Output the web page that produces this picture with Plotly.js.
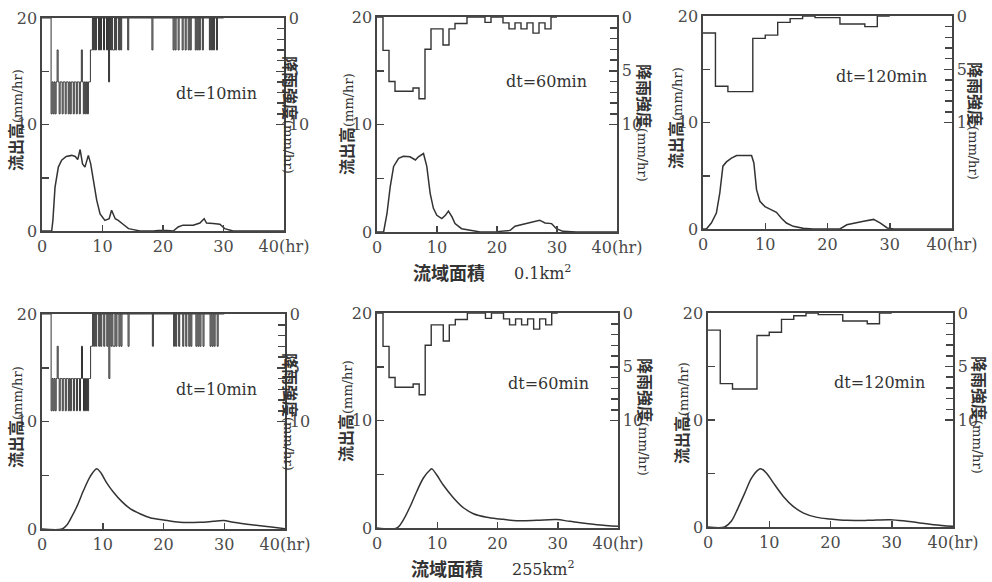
<!DOCTYPE html>
<html><head><meta charset="utf-8">
<script src="https://cdn.plot.ly/plotly-3.0.1.min.js"></script>
<style>html,body{margin:0;padding:0;background:#fff}#chart{width:992px;height:582px}</style>
</head><body><div id="chart"></div>
<script>
// ---------- data ----------
// 10-minute rainfall (mm/hr), hours 0..29, six values per hour
const rain10 = [
 0,0,0,0,0,0,  0,0,0,9,6,9,  6,9,6,3,6,9,  6,6,9,6,6,9,  6,6,9,6,9,6,
 6,9,6,6,9,6,  6,9,6,3,6,9,  6,9,6,9,6,6,  3,3,0,3,0,3,  0,0,3,0,3,0,
 0,3,0,0,3,0,  6,0,3,0,3,3,  0,3,0,0,3,0,  3,0,0,0,0,0,  0,3,0,0,0,0,
 0,0,0,0,0,0,  0,0,0,0,0,0,  0,0,0,0,0,0,  0,3,0,0,0,0,  0,0,0,0,0,0,
 0,0,0,0,0,0,  0,0,0,0,3,0,  3,0,0,3,0,0,  0,3,0,0,3,0,  0,3,0,3,0,0,
 0,0,3,0,3,0,  3,0,0,3,0,0,  0,0,0,0,3,0,  3,0,3,0,0,3,  0,0,0,0,0,0
];
// hourly rainfall (mm/hr), hours 0..29
const rain60 = [0,3.1,6.0,6.9,6.9,6.9,6.6,7.6,3.0,1.1,1.1,2.6,1.1,0.6,0.6,0,0,0,0.5,0,0,0.55,1.1,0.55,1.1,0.55,1.5,0.55,1.1,0];
// 2-hourly rainfall (mm/hr), periods starting 0,2,...,28
const rain120 = [1.6,6.6,7.1,7.1,2.1,1.8,0.6,0.25,0,0.15,0.15,0.75,0.75,1.0,0];

// runoff, basin 0.1 km2
const qA10_t = [0,1.6,1.8,2.15,2.7,3.25,4.0,4.9,5.5,5.9,6.3,6.7,7.1,7.66,8.05,8.5,9.04,9.6,10.4,11.1,11.5,12.1,12.6,13.4,14.3,15.1,16.2,18.4,19.2,20.6,21.7,22.5,23.3,25.0,26.1,26.8,27.2,28.3,29.4,30.2,31.6,40];
const qA10_v = [0,0,1.0,4.1,6.0,6.65,7.0,7.1,7.0,6.7,7.65,6.3,6.0,7.1,6.3,4.8,2.9,1.6,1.0,1.15,1.95,1.15,1.0,0.63,0.22,0.13,0,0,0.05,0.05,0,0.38,0.55,0.55,0.75,1.15,0.75,0.7,0.63,0.22,0,0];
const qA60_t = [0,1.1,1.66,2.2,2.77,3.6,4.4,5.5,6.4,6.9,7.75,8.3,8.86,9.4,9.97,10.8,11.4,11.9,12.5,13.0,14.1,15.5,17.2,19.9,22.2,23.0,24.4,25.5,26.3,27.1,28.0,29.1,29.9,31.0,33.2,40];
const qA60_v = [0,0,1.7,4.2,6.1,6.85,7.05,7.0,6.7,7.0,7.3,6.1,3.6,2.2,1.55,1.25,1.55,1.95,1.4,0.78,0.31,0.15,0,0.03,0.15,0.53,0.72,0.84,0.93,1.1,0.84,0.78,0.31,0.06,0,0];
const qA120_t = [0,0.54,1.34,2.15,2.7,3.2,3.76,4.57,5.4,6.45,7.8,8.17,8.6,9.14,9.95,11.0,11.8,12.6,13.4,14.5,16.1,17.7,22.0,23.1,24.2,25.8,27.4,28.5,29.6,30.6,40];
const qA120_v = [0,0,0.56,1.5,3.4,5.9,6.3,6.65,6.9,6.9,6.9,6.2,3.7,2.6,2.1,1.8,1.56,1.0,0.56,0.25,0.06,0,0,0.4,0.56,0.72,0.9,0.56,0.1,0,0];

// runoff, basin 255 km2
const qB10_t = [0,3.3,4.1,4.9,5.75,6.85,7.95,9.0,9.6,10.7,11.8,13.15,14.5,16.2,17.8,20.0,22.7,26.0,28.2,29.9,31.5,34.8,38.1,40];
const qB10_v = [0,0,0.37,1.15,2.1,3.6,4.9,5.6,5.3,4.25,3.4,2.55,1.9,1.4,1.05,0.84,0.62,0.62,0.71,0.78,0.62,0.37,0.16,0.03];
const qB60_t = [0,3.3,4.4,5.5,6.6,7.7,8.8,9.1,9.9,11.0,12.7,14.4,16.0,18.2,20.4,23.2,26.5,29.8,32.0,36.5,40];
const qB60_v = [0,0,0.78,2.0,3.4,4.65,5.4,5.5,4.95,4.0,2.8,1.86,1.33,1.0,0.84,0.68,0.71,0.78,0.62,0.31,0.16];
const qB120_t = [0,2.7,3.8,4.9,6.0,7.1,8.2,8.7,9.6,10.7,12.3,13.9,15.6,17.8,19.9,22.7,26.0,29.8,32.5,36.9,40];
const qB120_v = [0,0,0.53,1.77,3.17,4.56,5.34,5.43,5.0,4.1,2.86,1.93,1.3,0.9,0.75,0.62,0.62,0.68,0.53,0.22,0.06];

const xTickVals = [0,10,20,30,40];
const xTickText = ['0','10','20','30','40(hr)'];
const leftTickVals = [0,10,20];
const rightTickVals = [0,5,10];
const dtLabels = ['dt=10min','dt=60min','dt=120min'];
const areaLabels = ['0.1km<sup>2</sup>','255km<sup>2</sup>'];

// ---------- rainfall step series ----------
function stepSeries(vals, dt){
  const x=[], y=[];
  vals.forEach((v,i)=>{x.push(i*dt); y.push(v);});
  x.push(vals.length*dt); y.push(0);
  return {x,y};
}
const rainSets = [stepSeries(rain10,1/6), stepSeries(rain60,1), stepSeries(rain120,2)];
const runoff = [
  [qA10_t,qA10_v],[qA60_t,qA60_v],[qA120_t,qA120_v],
  [qB10_t,qB10_v],[qB60_t,qB60_v],[qB120_t,qB120_v]
];

// ---------- layout geometry (pixels) ----------
const W=992, H=582;
const geo = [
  {x:[42,284], y:[18,231], dt:[216,94],  lt:[15,120],  rt:[291,115]},
  {x:[377,617],y:[17,232], dt:[546,82],  lt:[346,124], rt:[645,123]},
  {x:[703,952],y:[16,229], dt:[881,77],  lt:[675,118], rt:[976,121]},
  {x:[42,285], y:[314,529],dt:[216,390], lt:[15,417],  rt:[291,412]},
  {x:[377,618],y:[313,528],dt:[548,383], lt:[345,411], rt:[646,417]},
  {x:[708,953],y:[313,527],dt:[879,382], lt:[681,413], rt:[980,415]}
];
const px = v=>v/W, py = v=>1-v/H;
const ink='#333', axc='#444';
const tickFont={family:'DejaVu Serif', size:16, color:'#4a4a4a'};

const data=[], layout={
  width:W, height:H, margin:{l:0,r:0,t:0,b:0},
  paper_bgcolor:'#fff', plot_bgcolor:'#fff', showlegend:false,
  annotations:[]
};

geo.forEach((g,k)=>{
  const n=k+1, yl=2*k+1, yr=2*k+2;
  const xa = n===1?'x':'x'+n, yla = yl===1?'y':'y'+yl, yra='y'+yr;
  const xk = n===1?'xaxis':'xaxis'+n, ylk = yl===1?'yaxis':'yaxis'+yl, yrk='yaxis'+yr;
  layout[xk] = {domain:[px(g.x[0]),px(g.x[1])], anchor:yla, range:[0,40], fixedrange:true,
    tickmode:'array', tickvals:xTickVals, ticktext:xTickText, ticks:'inside', ticklen:6, tickwidth:1.5, tickcolor:axc,
    showline:true, linecolor:axc, linewidth:1.6, mirror:true, showgrid:false, zeroline:false, tickfont:tickFont};
  layout[ylk] = {domain:[py(g.y[1]),py(g.y[0])], anchor:xa, range:[0,20],
    tickmode:'array', tickvals:leftTickVals, ticks:'inside', ticklen:7, tickwidth:1.5, tickcolor:axc,
    minor:{tickmode:'array', tickvals:[5,15], ticks:'inside', ticklen:7, tickwidth:1.5, tickcolor:axc},
    showline:true, linecolor:axc, linewidth:1.6, showgrid:false, zeroline:false, tickfont:tickFont};
  layout[yrk] = {overlaying:yla, anchor:xa, side:'right', range:[20,0],
    tickmode:'array', tickvals:rightTickVals, ticks:'inside', ticklen:8, tickwidth:1.5, tickcolor:axc,
    minor:{tickmode:'array', tickvals:[1,2,3,4,6,7,8,9], ticks:'inside', ticklen:7, tickwidth:1.5, tickcolor:axc},
    showline:true, linecolor:axc, linewidth:1.6, showgrid:false, zeroline:false, tickfont:tickFont};

  const rs = rainSets[k%3];
  data.push({type:'scatter', mode:'lines', x:rs.x, y:rs.y, xaxis:xa, yaxis:yra,
    line:{shape:'hv', color:ink, width:k%3===0?1:1.4}, hoverinfo:'skip'});
  const q = runoff[k];
  data.push({type:'scatter', mode:'lines', x:q[0], y:q[1], xaxis:xa, yaxis:yla,
    line:{shape:k<3?'linear':'spline', smoothing:0.9, color:ink, width:1.5}, hoverinfo:'skip'});

  layout.annotations.push({xref:'paper',yref:'paper',x:px(g.dt[0]),y:py(g.dt[1]),text:dtLabels[k%3],
    showarrow:false, xanchor:'center', yanchor:'middle', font:{family:'DejaVu Serif',size:16,color:ink}});
  layout.annotations.push({xref:'paper',yref:'paper',x:px(g.lt[0]),y:py(g.lt[1]),textangle:-90,
    text:'<b>流出高</b><span style="font-family:DejaVu Serif;font-size:13px">(mm/hr)</span>',
    showarrow:false, xanchor:'center', yanchor:'middle', font:{family:'Noto Sans CJK JP',size:16,color:ink}});
  layout.annotations.push({xref:'paper',yref:'paper',x:px(g.rt[0]),y:py(g.rt[1]),textangle:90,
    text:'<b>降雨強度</b><span style="font-family:DejaVu Serif;font-size:13px">(mm/hr)</span>',
    showarrow:false, xanchor:'center', yanchor:'middle', font:{family:'Noto Sans CJK JP',size:16,color:ink}});
});

// basin-area captions
[[449,272,0],[447,568,1]].forEach(a=>{
  layout.annotations.push({xref:'paper',yref:'paper',x:px(a[0]),y:py(a[1]),text:'<b>流域面積</b>',
    showarrow:false, xanchor:'center', yanchor:'middle', font:{family:'Noto Sans CJK JP',size:18,color:ink}});
  layout.annotations.push({xref:'paper',yref:'paper',x:px(a[0]+63),y:py(a[1]),text:areaLabels[a[2]],
    showarrow:false, xanchor:'left', yanchor:'middle', font:{family:'DejaVu Serif',size:16,color:ink}});
});

Plotly.newPlot('chart', data, layout, {staticPlot:true});
</script></body></html>
